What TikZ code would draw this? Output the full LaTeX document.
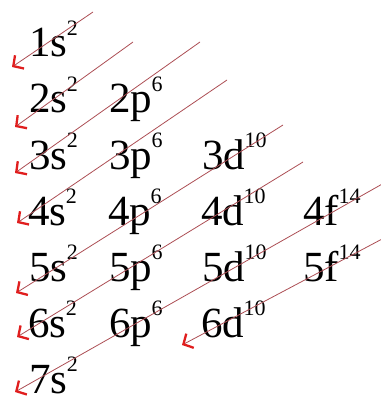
\documentclass[tikz,border=0pt]{standalone}
\usepackage{fontspec}
\setmainfont{Liberation Serif}
\usetikzlibrary{arrows.meta}
\definecolor{diagline}{RGB}{172,78,84}
\definecolor{diagtip}{RGB}{224,30,30}
\newcommand{\occ}[1]{\kern-0.5pt\raisebox{0.5em}{\fontsize{22}{22}\selectfont #1}}
\tikzset{
	orb/.style={anchor=base west, inner sep=0pt, font=\fontsize{43}{50}\selectfont},
	diag/.style={draw=diagline, line width=0.8pt, -{Straight Barb[color=diagtip, line width=2.3pt, length=7.5pt, width=16pt]}}
}
\begin{document}
\begin{tikzpicture}[x=1pt,y=1pt,yscale=-1,xscale=1]
				\useasboundingbox (0,0) rectangle (380,403);
				
				% Text Node
				\node [orb] (s1) at (29,57) {1s\occ{2}};
				% Text Node
				\node [orb] (s2) at (29,113) {2s\occ{2}};
				% Text Node
				\node [orb] (p2) at (109,113) {2p\occ{6}};
				% Text Node
				\node [orb] (s3) at (29,169) {3s\occ{2}};
				% Text Node
				\node [orb] (p3) at (109,169) {3p\occ{6}};
				% Text Node
				\node [orb] (d3) at (202,169) {3d\occ{10}};
				% Text Node
				\node [orb] (s4) at (28,225) {4s\occ{2}};
				% Text Node
				\node [orb] (p4) at (108,225) {4p\occ{6}};
				% Text Node
				\node [orb] (d4) at (201,225) {4d\occ{10}};
				% Text Node
				\node [orb] (f4) at (303,225) {4f\occ{14}};
				% Text Node
				\node [orb] (s5) at (29,281) {5s\occ{2}};
				% Text Node
				\node [orb] (p5) at (109,281) {5p\occ{6}};
				% Text Node
				\node [orb] (d5) at (202,281) {5d\occ{10}};
				% Text Node
				\node [orb] (f5) at (303,281) {5f\occ{14}};
				% Text Node
				\node [orb] (s6) at (28,337) {6s\occ{2}};
				% Text Node
				\node [orb] (p6) at (109,337) {6p\occ{6}};
				% Text Node
				\node [orb] (d6) at (201,337) {6d\occ{10}};
				% Text Node
				\node [orb] (s7) at (29,393) {7s\occ{2}};
				
				%Ends of the filling order arrows
				\coordinate (a1) at (93,12);   \coordinate (b1) at (12,67);
				\coordinate (a2) at (133,42);  \coordinate (b2) at (15,127);
				\coordinate (a3) at (200,42);  \coordinate (b3) at (15,173);
				\coordinate (a4) at (227,80);  \coordinate (b4) at (17,223);
				\coordinate (a5) at (283,125); \coordinate (b5) at (16,293);
				\coordinate (a6) at (303,162); \coordinate (b6) at (17,337);
				\coordinate (a7) at (384,183); \coordinate (b7) at (15,392);
				\coordinate (a8) at (384,238); \coordinate (b8) at (182,345);
				
				%Arrow: 1s
				\draw [diag] (a1) -- (b1);
				%Arrow: 2s
				\draw [diag] (a2) -- (b2);
				%Arrow: 2p 3s
				\draw [diag] (a3) -- (b3);
				%Arrow: 3p 4s
				\draw [diag] (a4) -- (b4);
				%Arrow: 3d 4p 5s
				\draw [diag] (a5) -- (b5);
				%Arrow: 4d 5p 6s
				\draw [diag] (a6) -- (b6);
				%Arrow: 4f 5d 6p 7s
				\draw [diag] (a7) -- (b7);
				%Arrow: 5f 6d
				\draw [diag] (a8) -- (b8);
				
			\end{tikzpicture}
\end{document}
